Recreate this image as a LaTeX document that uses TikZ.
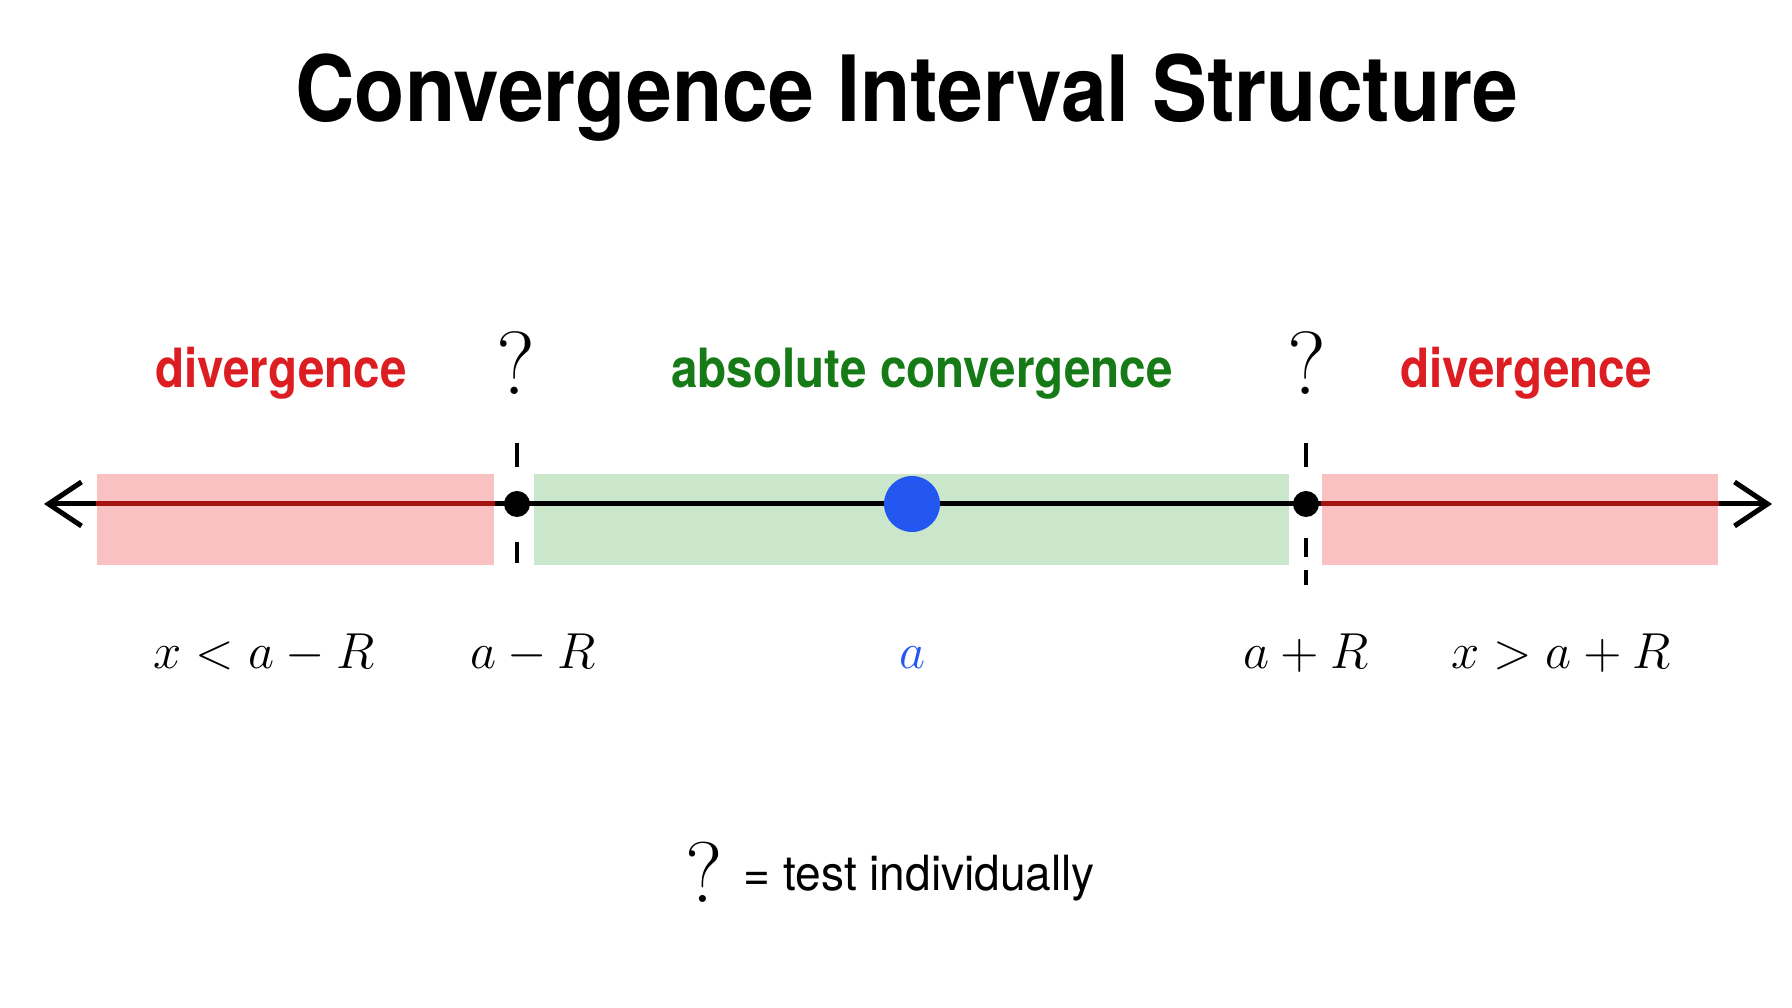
\documentclass[tikz,border=0pt]{standalone}
\usepackage{fontspec}
\usepackage{tikz}
\usetikzlibrary{arrows.meta, positioning}
\newfontfamily\condfont[FakeStretch=0.88]{TeX Gyre Heros}
\newfontfamily\headfont[FakeStretch=0.9]{TeX Gyre Heros}
\newfontfamily\legfont[FakeStretch=0.95]{TeX Gyre Heros}
\definecolor{DivRed}{RGB}{220, 30, 35}
\definecolor{DivFill}{RGB}{249, 193, 193}
\definecolor{AxisRed}{RGB}{165, 18, 18}
\definecolor{AbsGreen}{RGB}{22, 122, 22}
\definecolor{AbsFill}{RGB}{203, 231, 203}
\definecolor{CentreBlue}{RGB}{36, 87, 240}

\begin{document}
\begin{tikzpicture}[
  zone/.style={inner sep=0, minimum height=0.91cm},
  axis/.style={line width=0.05cm, {Straight Barb[length=0.33cm, width=0.44cm]}-{Straight Barb[length=0.33cm, width=0.44cm]}},
  redaxis/.style={line width=0.05cm, AxisRed},
  guide/.style={line width=0.035cm},
  pt/.style={circle, fill, inner sep=0, minimum size=0.26cm},
  title/.style={anchor=base, inner sep=0, font=\headfont\bfseries\fontsize{26}{30}\selectfont},
  lab/.style={anchor=base, inner sep=0, font=\condfont\bfseries\fontsize{15.4}{18}\selectfont},
  qm/.style={anchor=base, inner sep=0, font=\fontsize{25.5}{30}\selectfont},
  val/.style={anchor=base, inner sep=0, font=\fontsize{13.7}{16}\selectfont}]
\useasboundingbox (0,-5.04) rectangle (17.92,5.04);
\node[title] (title) at (9.07,3.82) {Convergence Interval Structure};
\node[zone, fill=DivFill, minimum width=3.97cm] (zl) at (2.955,-0.155) {};
\node[zone, fill=AbsFill, minimum width=7.55cm] (za) at (9.115,-0.155) {};
\node[zone, fill=DivFill, minimum width=3.96cm] (zr) at (15.20,-0.155) {};
\coordinate (tl) at (0.44,0); \coordinate (tr) at (17.72,0);
\draw[axis] (tl) -- (tr);
\draw[redaxis] (zl.west |- tl) -- (zl.east |- tl);
\draw[redaxis] (zr.west |- tr) -- (zr.east |- tr);
\coordinate (gl1) at (5.17,0.61); \coordinate (gl2) at (5.17,-0.59);
\coordinate (gr1) at (13.06,0.61); \coordinate (gr2) at (13.06,-0.81);
\draw[guide, dash pattern=on 0.24cm off 0.75cm on 0.21cm] (gl1) -- (gl2);
\draw[guide, dash pattern=on 0.24cm off 0.71cm on 0.19cm off 0.13cm on 0.15cm] (gr1) -- (gr2);
\node[pt] (pl) at (5.17,0) {};
\node[pt] (pr) at (13.06,0) {};
\node[pt, CentreBlue, minimum size=0.56cm] (pa) at (9.12,0) {};
\node[lab, text=DivRed] (dl) at (2.81,1.16) {divergence};
\node[lab, text=AbsGreen] (ac) at (9.22,1.16) {absolute convergence};
\node[lab, text=DivRed] (dr) at (15.26,1.16) {divergence};
\node[qm] (ql) at (5.16,1.09) {?};
\node[qm] (qr) at (13.07,1.09) {?};
\node[val] (v1) at (2.64,-1.65) {$x < a - R$};
\node[val] (v2) at (5.33,-1.65) {$a - R$};
\node[val, text=CentreBlue] (v3) at (9.12,-1.65) {$a$};
\node[val] (v4) at (13.06,-1.65) {$a + R$};
\node[val] (v5) at (15.61,-1.65) {$x > a + R$};
\node[qm, font=\fontsize{24.5}{30}\selectfont] (lq) at (7.04,-3.99) {?};
\node[anchor=base west, inner sep=0, font=\legfont\fontsize{13.8}{16}\selectfont] (lg) at (7.43,-3.87) {= test individually};
\end{tikzpicture}
\end{document}
